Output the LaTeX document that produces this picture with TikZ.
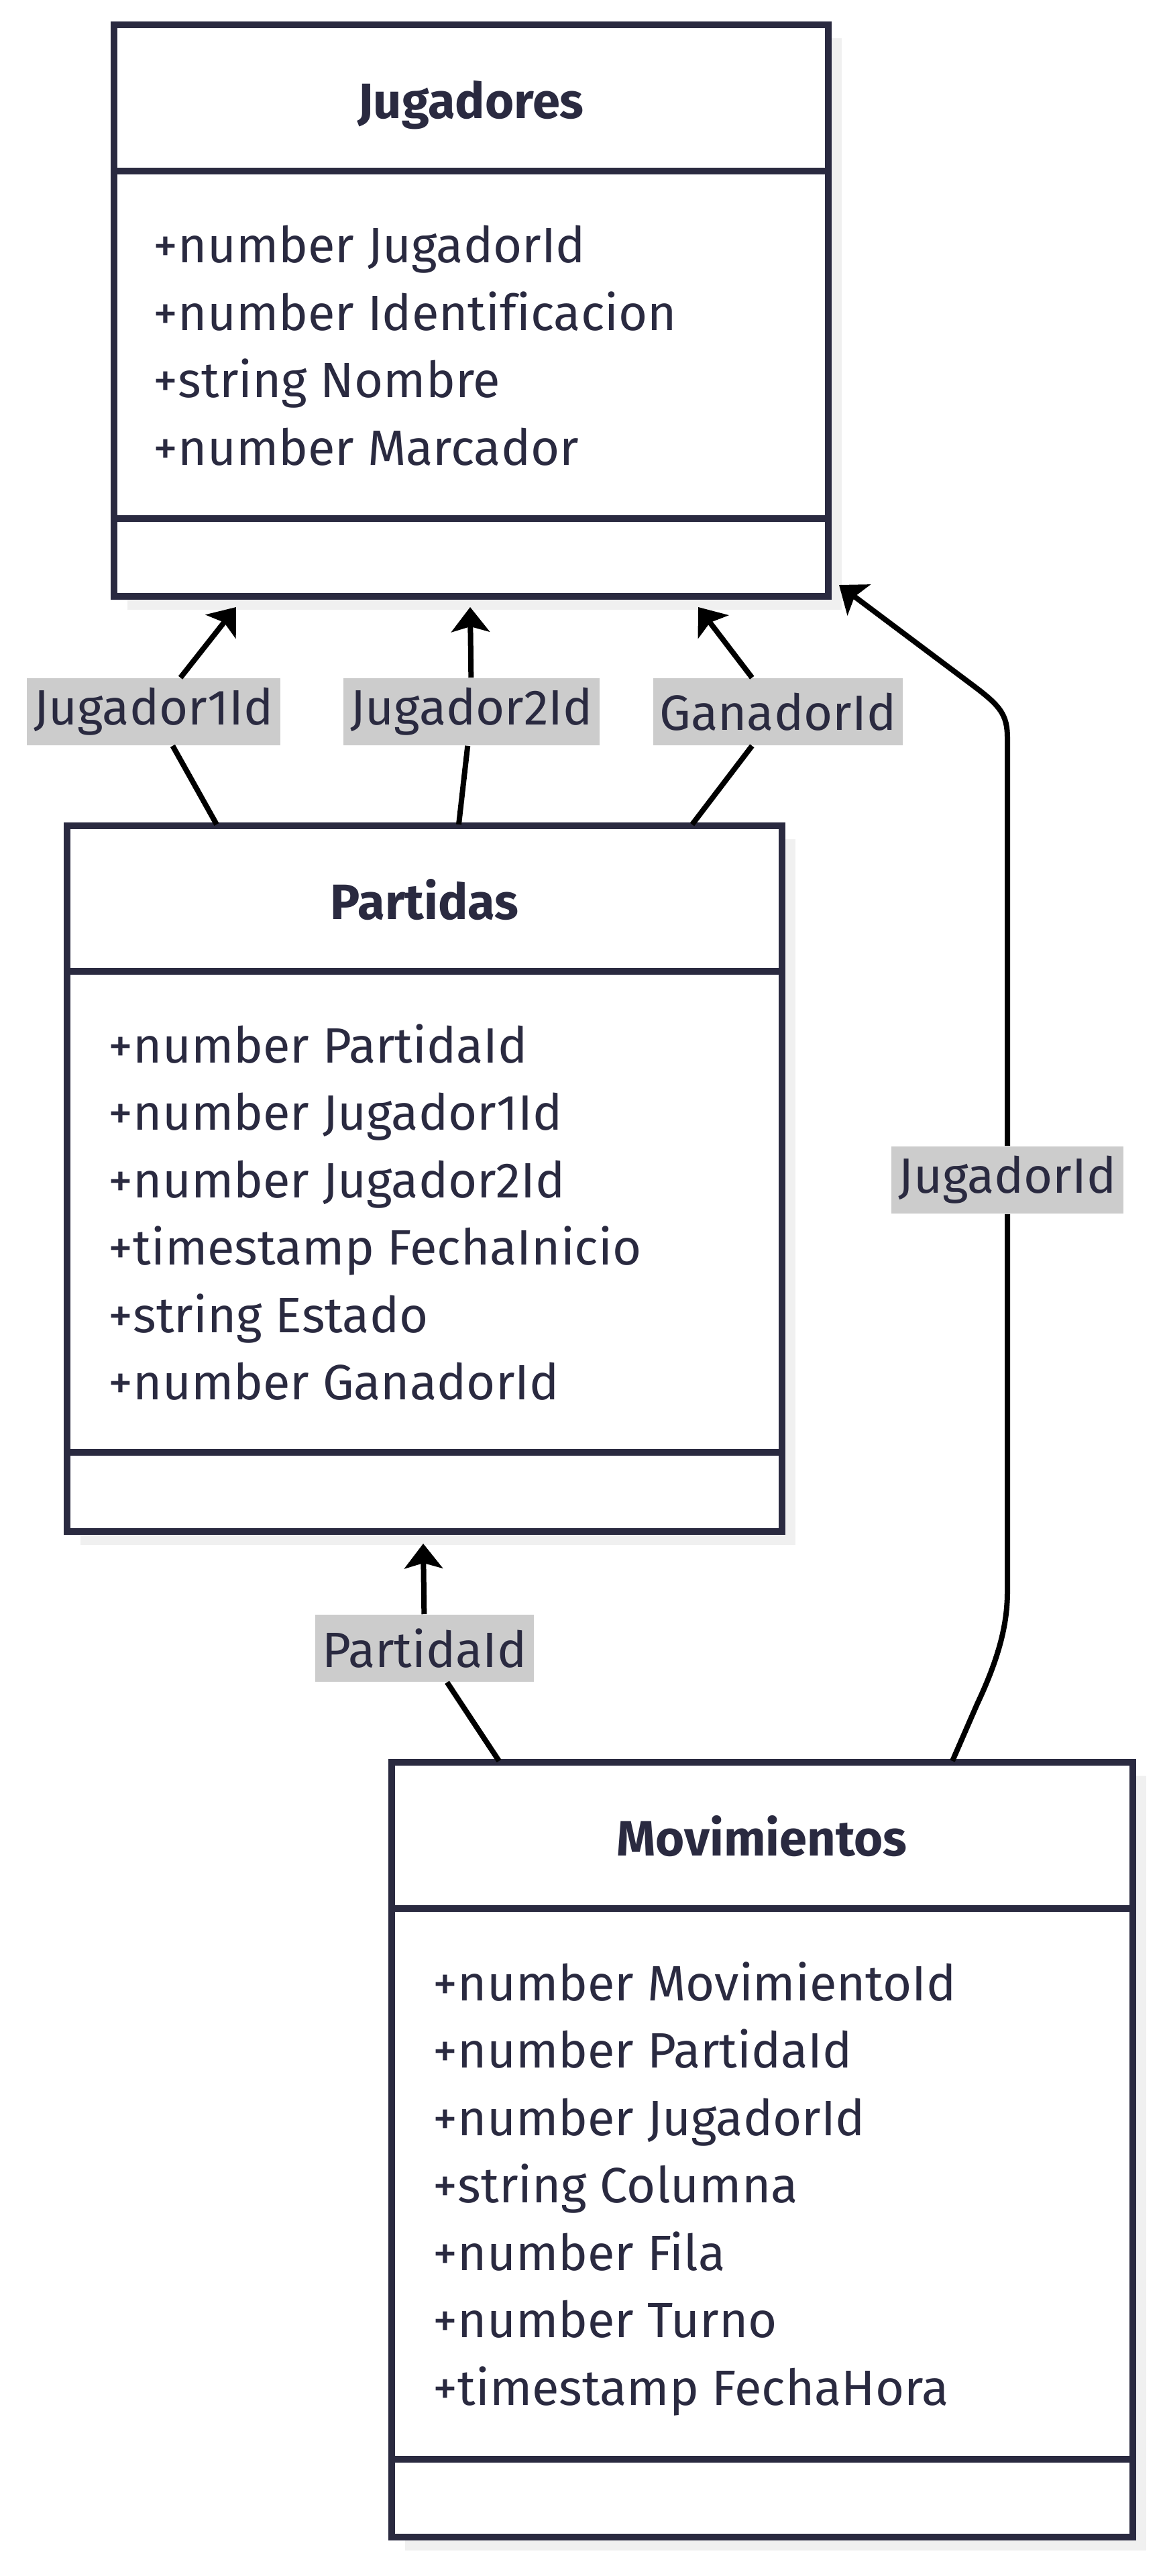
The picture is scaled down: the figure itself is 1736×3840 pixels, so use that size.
\documentclass[tikz,border=0pt]{standalone}
\usepackage{fontspec}
\setmainfont[Ligatures=NoCommon]{Fira Sans}
\usetikzlibrary{arrows.meta,fit,shadows}

\definecolor{umlink}{RGB}{42,42,64}
\definecolor{umllabel}{RGB}{204,204,204}
\definecolor{umlshade}{RGB}{240,240,240}
\newcommand{\attrfont}{\fontsize{18.5pt}{22pt}\selectfont}

\tikzset{
  classbox/.style={draw=umlink, line width=2.5pt, fill=white, inner sep=0pt,
    drop shadow={shadow xshift=5pt, shadow yshift=-5pt, fill=umlshade, opacity=1}},
  divider/.style={draw=umlink, line width=2.5pt},
  classname/.style={anchor=base, inner sep=0pt, text=umlink, font=\attrfont\bfseries},
  attr/.style={anchor=base west, inner sep=0pt, text=umlink, font=\attrfont},
  rellabel/.style={fill=umllabel, text=umlink, font=\attrfont, inner xsep=2.5pt,
    inner ysep=0pt, minimum height=25pt},
  rel/.style={draw=black, line width=2pt,
    -{Stealth[length=9.25pt, width=14.25pt, inset=2pt]}}
}

\begin{document}
\begin{tikzpicture}[x=0.25pt, y=-0.25pt]
    \useasboundingbox (0,0) rectangle (1736,3840);
    \fill[white] (0,0) rectangle (1736,3840);

    % Jugadores
    \node[classbox, fit={(170,37) (1235,889)}] (jug) {};
    \draw[divider] (170,255) -- (1235,255); \draw[divider] (170,773) -- (1235,773);
    \node[classname] (jug-t) at (702,177) {Jugadores};
    \foreach \a [count=\i] in {+number JugadorId, +number Identificacion,
        +string Nombre, +number Marcador}
      \node[attr] (jug-a\i) at (228, {392+(\i-1)*100.5}) {\a};

    % Partidas
    \node[classbox, fit={(100,1231) (1166,2283)}] (par) {};
    \draw[divider] (100,1448) -- (1166,1448); \draw[divider] (100,2165) -- (1166,2165);
    \node[classname] (par-t) at (633,1370) {Partidas};
    \foreach \a [count=\i] in {+number PartidaId, +number Jugador1Id, +number Jugador2Id,
        +timestamp FechaInicio, +string Estado, +number GanadorId}
      \node[attr] (par-a\i) at (161, {1584+(\i-1)*100.5}) {\a};

    % Movimientos
    \node[classbox, fit={(584,2627) (1689,3782)}] (mov) {};
    \draw[divider] (584,2845) -- (1689,2845); \draw[divider] (584,3666) -- (1689,3666);
    \node[classname] (mov-t) at (1136,2766) {Movimientos};
    \foreach \a [count=\i] in {+number MovimientoId, +number PartidaId, +number JugadorId,
        +string Columna, +number Fila, +number Turno, +timestamp FechaHora}
      \node[attr] (mov-a\i) at (645, {2982+(\i-1)*100.5}) {\a};

    % end points on the boxes
    \coordinate (par-j1) at (323,1229); \coordinate (jug-j1) at (352,905);
    \coordinate (par-j2) at (684,1229); \coordinate (jug-j2) at (701,905);
    \coordinate (par-g) at (1032,1229); \coordinate (jug-g) at (1041,905);
    \coordinate (mov-p) at (744,2625); \coordinate (par-p) at (631,2301);
    \coordinate (mov-j) at (1420,2625); \coordinate (jug-m) at (1251,872);

    % labels
    \node[rellabel] (lab-j1) at (229,1061) {Jugador1Id};
    \node[rellabel] (lab-j2) at (703,1061) {Jugador2Id};
    \node[rellabel] (lab-g) at (1160,1061) {GanadorId};
    \node[rellabel] (lab-p) at (633,2457) {PartidaId};
    \node[rellabel] (lab-j) at (1502,1759) {JugadorId};

    % relations
    \draw[rel] (par-j1) -- (lab-j1) -- (jug-j1);
    \draw[rel] (par-j2) -- (lab-j2) -- (jug-j2);
    \draw[rel] (par-g) -- (lab-g) -- (jug-g);
    \draw[rel] (mov-p) -- (lab-p) -- (par-p);
    \draw[rel] (mov-j) -- (1457,2540) .. controls (1490,2470) and (1502,2420) .. (1502,2373)
      -- (lab-j) -- (1502,1100) .. controls (1502,1065) and (1491,1052) .. (1451,1022)
      -- (jug-m);
\end{tikzpicture}
\end{document}
